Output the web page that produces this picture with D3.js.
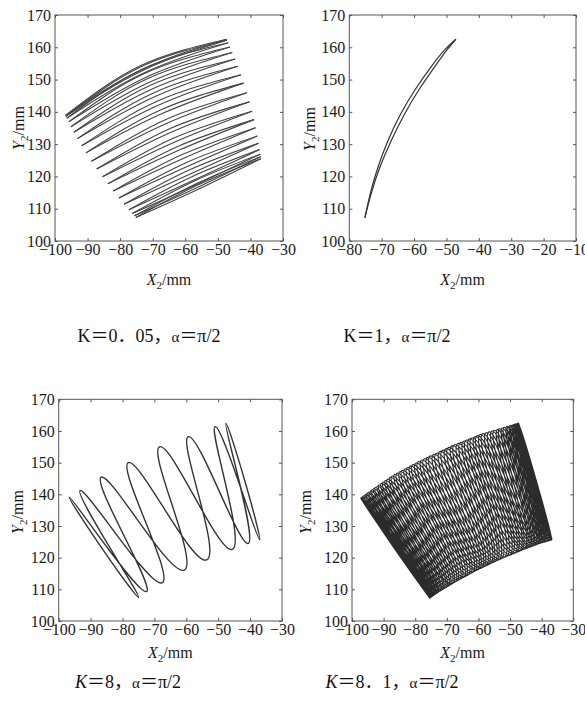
<!DOCTYPE html>
<html>
<head>
<meta charset="utf-8">
<script src="https://cdn.jsdelivr.net/npm/d3@7"></script>
<style>
  body { margin: 0; background: #fff; }
  svg { display: block; }
</style>
</head>
<body>
<svg id="chart" width="585" height="722"></svg>
<script>
(function(){
'use strict';
/* globals d3 */

// ---- data (X2, Y2 in mm) ----

var xTicksWide   = [-100, -90, -80, -70, -60, -50, -40, -30];
var xTicksNarrow = [-80, -70, -60, -50, -40, -30, -20, -10];
var yTicks       = [100, 110, 120, 130, 140, 150, 160, 170];

var captionsK   = ['0．05', '1', '8', '8．1'];

// K=0.05 : thin lenses, [left tip, middle, right tip]
var lensesK005 = [
    [[-96.8, 138.9], [-73.5, 153.7], [-47.3, 162.5]],
    [[-96.7, 138.6], [-73.3, 153.4], [-47.2, 162.2]],
    [[-96.4, 138.0], [-73.0, 152.6], [-46.8, 161.4]],
    [[-95.8, 136.9], [-72.3, 151.3], [-46.3, 160.1]],
    [[-95.1, 135.4], [-71.6, 149.6], [-45.6, 158.4]],
    [[-94.2, 133.7], [-70.6, 147.6], [-44.7, 156.4]],
    [[-93.1, 131.7], [-69.5, 145.3], [-43.9, 154.1]],
    [[-91.8, 129.5], [-68.4, 142.7], [-42.9, 151.5]],
    [[-90.5, 127.3], [-67.2, 140.1], [-42.1, 148.9]],
    [[-88.8, 124.7], [-65.7, 137.1], [-41.1, 145.9]],
    [[-87.2, 122.3], [-64.4, 134.3], [-40.3, 143.1]],
    [[-85.4, 119.9], [-63.1, 131.4], [-39.5, 140.2]],
    [[-83.8, 117.7], [-61.9, 128.8], [-38.9, 137.6]],
    [[-82.1, 115.5], [-60.7, 126.2], [-38.4, 135.1]],
    [[-80.4, 113.3], [-59.5, 123.7], [-37.9, 132.5]],
    [[-78.8, 111.4], [-58.4, 121.5], [-37.5, 130.3]],
    [[-77.3, 109.7], [-57.4, 119.5], [-37.2, 128.3]],
    [[-76.3, 108.5], [-56.8, 118.1], [-37.0, 126.9]],
    [[-75.6, 107.8], [-56.4, 117.2], [-36.9, 126.1]],
    [[-75.2, 107.3], [-56.1, 116.7], [-36.8, 125.5]]
];

// K=1 : one thin loop, two branches
var loopK1Upper = [
    [-75.2, 107.2], [-73.45, 115.0], [-71.1, 123.0], [-68.1, 131.0], [-64.3, 139.0],
    [-59.6, 147.0], [-54.35, 154.5], [-50.55, 159.2], [-47.1, 162.5]
];
var loopK1Lower = [
    [-75.2, 107.2], [-73.15, 115.0], [-70.5, 123.0], [-67.1, 131.0], [-63.1, 139.0],
    [-58.4, 147.0], [-53.25, 154.5], [-49.85, 159.2], [-47.1, 162.5]
];

// K=8 : peaks and valleys in drawing order
var loopK8 = [
    [-68.4, 155.0], [-45.6, 122.6], [-51.0, 161.4], [-37.0, 125.6],
    [-47.6, 162.4], [-40.6, 124.5], [-59.4, 158.2], [-53.6, 119.3],
    [-78.2, 150.0], [-67.5, 112.1], [-93.3, 141.2], [-75.0, 107.5],
    [-96.7, 139.1], [-72.4, 109.3], [-86.7, 145.4], [-60.6, 116.1]
];

// outer arcs of the workspace (K=8.1 panel), position along arc -> X2, Y2
var arcPos     = [0, 0.010, 0.085, 0.222, 0.402, 0.598, 0.778, 0.915, 0.990, 1];
var topArcX    = [-97.3, -96.9, -93.3, -86.7, -78.2, -68.4, -59.4, -51.0, -47.6, -47.3];
var topArcY    = [138.8, 139.1, 141.7, 146.2, 150.7, 155.3, 158.9, 161.4, 162.4, 162.5];
var bottomArcX = [-75.4, -75.0, -72.4, -67.5, -60.6, -53.6, -45.6, -40.6, -37.0, -36.7];
var bottomArcY = [107.2, 107.5, 109.3, 112.2, 116.0, 119.3, 122.6, 124.5, 125.5, 125.7];

// K=8.1 : position along the arcs of each peak / valley, in drawing order
var peaksK81 = [
    0.598, 0.913, 0.992, 0.790, 0.422, 0.098, 0.005, 0.195, 0.559,
    0.890, 0.998, 0.821, 0.460, 0.122, 0.001, 0.165, 0.521, 0.865,
    1.000, 0.849, 0.499, 0.149, 0.000, 0.137, 0.482, 0.837, 0.999,
    0.876, 0.538, 0.178, 0.002, 0.112, 0.443, 0.807, 0.996, 0.900,
    0.576, 0.208, 0.007, 0.088, 0.405, 0.776, 0.989, 0.922, 0.614,
    0.241, 0.015, 0.068, 0.367, 0.743, 0.979, 0.942, 0.652, 0.275,
    0.026, 0.049, 0.330, 0.708, 0.967, 0.959, 0.688, 0.310, 0.040,
    0.034, 0.294, 0.672, 0.952, 0.973, 0.723, 0.346, 0.057, 0.021,
    0.260, 0.635, 0.934, 0.984, 0.757, 0.384, 0.076, 0.012, 0.226
];
var valleysK81 = [
    0.776, 0.989, 0.922, 0.614, 0.241, 0.015, 0.068, 0.367, 0.743,
    0.979, 0.942, 0.652, 0.275, 0.026, 0.049, 0.330, 0.708, 0.967,
    0.959, 0.688, 0.310, 0.040, 0.034, 0.294, 0.672, 0.952, 0.973,
    0.723, 0.346, 0.057, 0.021, 0.260, 0.635, 0.934, 0.984, 0.757,
    0.384, 0.076, 0.012, 0.226, 0.598, 0.913, 0.992, 0.790, 0.422,
    0.098, 0.005, 0.195, 0.559, 0.890, 0.998, 0.821, 0.460, 0.122,
    0.001, 0.165, 0.521, 0.865, 1.000, 0.849, 0.499, 0.149, 0.000,
    0.137, 0.482, 0.837, 0.999, 0.876, 0.538, 0.178, 0.002, 0.112,
    0.443, 0.807, 0.996, 0.900, 0.576, 0.208, 0.007, 0.088, 0.405
];

// ---- layout ----

var SERIF = '"Liberation Serif", "DejaVu Serif", serif';
var CAPTION_FONT = '"Liberation Serif", "Noto Sans CJK SC", serif';
var LINE_COLOR = '#333';
var LOOP_TENSION = -0.5;   // rounder loop tops than plain Catmull-Rom

var panels = [
    { x0: 55,    x1: 283,   y0: 15,    y1: 241, xTicks: xTicksWide,
      xTitleY: 285, yTitleX: 24,  yTitleY: 128,
      capX: 149, capY: 342, capItalic: false, k: captionsK[0] },
    { x0: 349.3, x1: 576,   y0: 15,    y1: 241, xTicks: xTicksNarrow,
      xTitleY: 285, yTitleX: 315, yTitleY: 129,
      capX: 397, capY: 342, capItalic: false, k: captionsK[1] },
    { x0: 58.7,  x1: 282,   y0: 399.3, y1: 621, xTicks: xTicksWide,
      xTitleY: 658, yTitleX: 23,  yTitleY: 512,
      capX: 128, capY: 688, capItalic: true,  k: captionsK[2] },
    { x0: 352,   x1: 573.3, y0: 399.3, y1: 621, xTicks: xTicksWide,
      xTitleY: 658, yTitleX: 311, yTitleY: 512,
      capX: 392, capY: 688, capItalic: true,  k: captionsK[3] }
];

var svg = d3.select('#chart');
svg.append('rect').attr('width', 585).attr('height', 722).attr('fill', '#fff');

/**
 * Frame, mirrored inward ticks, tick labels and titles for one panel
 */
function drawFrame(p){
    var g = svg.append('g');
    var x = d3.scaleLinear().domain(d3.extent(p.xTicks)).range([p.x0, p.x1]);
    var y = d3.scaleLinear().domain(d3.extent(yTicks)).range([p.y1, p.y0]);
    var fmt = d3.format('d');

    var axes = [
        { ax: d3.axisBottom(x), t: 'translate(0,' + p.y1 + ')', lab: true,  pad: 3 },
        { ax: d3.axisTop(x),    t: 'translate(0,' + p.y0 + ')', lab: false, pad: 3 },
        { ax: d3.axisLeft(y),   t: 'translate(' + p.x0 + ',0)', lab: true,  pad: 4 },
        { ax: d3.axisRight(y),  t: 'translate(' + p.x1 + ',0)', lab: false, pad: 3 }
    ];
    axes.forEach(function(a, i){
        var vals = i < 2 ? p.xTicks : yTicks;
        a.ax.tickValues(vals).tickSizeInner(-3).tickSizeOuter(0).tickPadding(a.pad)
            .tickFormat(a.lab ? fmt : function(){ return ''; });
        var ag = g.append('g').attr('transform', a.t).call(a.ax)
            .attr('font-family', SERIF).attr('font-size', 16);
        ag.select('.domain').remove();
        ag.selectAll('line').attr('stroke', '#555');
        ag.selectAll('text')
            .attr('font-family', SERIF)
            .attr('font-size', 16)
            .attr('fill', '#1a1a1a');
    });

    g.append('rect')
        .attr('x', p.x0).attr('y', p.y0)
        .attr('width', p.x1 - p.x0).attr('height', p.y1 - p.y0)
        .attr('fill', 'none').attr('stroke', '#555').attr('stroke-width', 1);

    // X2/mm
    var xt = g.append('text')
        .attr('x', (p.x0 + p.x1) / 2).attr('y', p.xTitleY)
        .attr('text-anchor', 'middle')
        .attr('font-family', SERIF).attr('font-size', 16).attr('fill', '#1a1a1a');
    xt.append('tspan').attr('font-style', 'italic').text('X');
    xt.append('tspan').attr('font-size', 11).attr('dy', 4).text('2');
    xt.append('tspan').attr('dy', -4).text('/mm');

    // Y2/mm
    var yt = g.append('text')
        .attr('transform', 'translate(' + p.yTitleX + ',' + p.yTitleY + ') rotate(-90)')
        .attr('text-anchor', 'middle')
        .attr('font-family', SERIF).attr('font-size', 16).attr('fill', '#1a1a1a');
    yt.append('tspan').attr('font-style', 'italic').text('Y');
    yt.append('tspan').attr('font-size', 11).attr('dy', 4).text('2');
    yt.append('tspan').attr('dy', -4).text('/mm');

    // caption under the panel
    var cap = svg.append('text')
        .attr('x', p.capX).attr('y', p.capY)
        .attr('text-anchor', 'middle')
        .attr('font-family', CAPTION_FONT).attr('font-size', 18).attr('fill', '#111');
    cap.append('tspan').attr('font-style', p.capItalic ? 'italic' : 'normal').text('K');
    cap.append('tspan').text('＝' + p.k + '，');
    cap.append('tspan').attr('font-size', 15).text('α');
    cap.append('tspan').text('＝π/2');

    return { x: x, y: y, g: g };
}

var frames = panels.map(drawFrame);

// ---- panel a : K = 0.05 ----
(function(f){
    var half = 2.0; // half gap of a lens at its middle, px
    var side = d3.line().curve(d3.curveNatural);
    lensesK005.forEach(function(lens){
        var L = [f.x(lens[0][0]), f.y(lens[0][1])];
        var M = [f.x(lens[1][0]), f.y(lens[1][1])];
        var R = [f.x(lens[2][0]), f.y(lens[2][1])];
        var dx = R[0] - L[0], dy = R[1] - L[1];
        var len = Math.sqrt(dx * dx + dy * dy);
        var nx = dy / len, ny = -dx / len;
        [1, -1].forEach(function(s){
            f.g.append('path')
                .attr('d', side([L, [M[0] + s * nx * half, M[1] + s * ny * half], R]))
                .attr('fill', 'none')
                .attr('stroke', '#444')
                .attr('stroke-width', 1.1);
        });
    });
})(frames[0]);

// ---- panel b : K = 1 ----
(function(f){
    var line = d3.line()
        .x(function(d){ return f.x(d[0]); })
        .y(function(d){ return f.y(d[1]); })
        .curve(d3.curveNatural);
    [loopK1Upper, loopK1Lower].forEach(function(branch){
        f.g.append('path')
            .attr('d', line(branch))
            .attr('fill', 'none')
            .attr('stroke', LINE_COLOR)
            .attr('stroke-width', 1.2);
    });
})(frames[1]);

// ---- panel c : K = 8 ----
(function(f){
    var line = d3.line()
        .x(function(d){ return f.x(d[0]); })
        .y(function(d){ return f.y(d[1]); })
        .curve(d3.curveCardinalClosed.tension(LOOP_TENSION));
    f.g.append('path')
        .attr('d', line(loopK8))
        .attr('fill', 'none')
        .attr('stroke', LINE_COLOR)
        .attr('stroke-width', 1.4);
})(frames[2]);

// ---- panel d : K = 8.1 ----
(function(f){
    var topX = d3.scaleLinear().domain(arcPos).range(topArcX);
    var topY = d3.scaleLinear().domain(arcPos).range(topArcY);
    var botX = d3.scaleLinear().domain(arcPos).range(bottomArcX);
    var botY = d3.scaleLinear().domain(arcPos).range(bottomArcY);
    var pts = [];
    peaksK81.forEach(function(u, i){
        var v = valleysK81[i];
        pts.push([topX(u), topY(u)]);
        pts.push([botX(v), botY(v)]);
    });
    var line = d3.line()
        .x(function(d){ return f.x(d[0]); })
        .y(function(d){ return f.y(d[1]); })
        .curve(d3.curveCardinalClosed.tension(LOOP_TENSION));
    f.g.append('path')
        .attr('d', line(pts))
        .attr('fill', 'none')
        .attr('stroke', '#2b2b2b')
        .attr('stroke-width', 1.15);
})(frames[3]);

})();
</script>
</body>
</html>
